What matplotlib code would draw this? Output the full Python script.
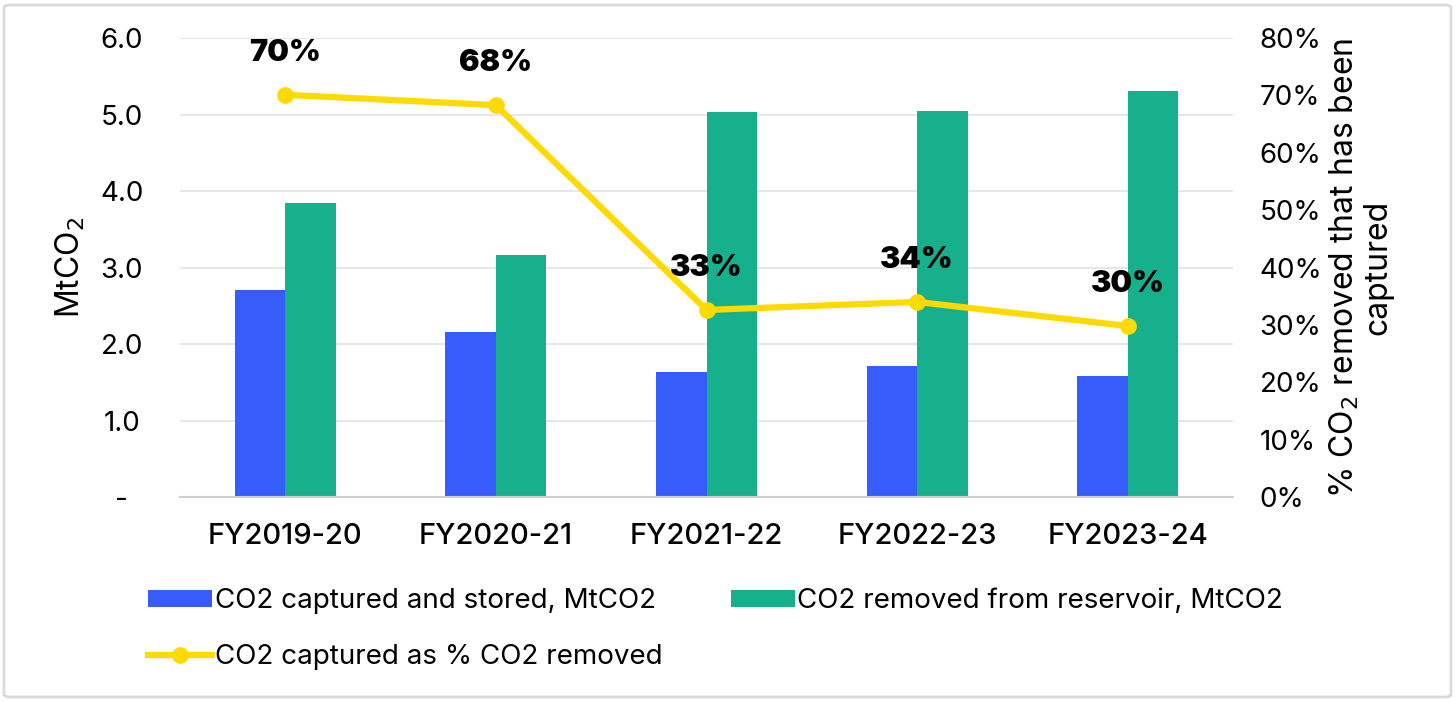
#importing libraries
import matplotlib.pyplot as plt
import numpy as np
from matplotlib.patches import FancyBboxPatch
from matplotlib.ticker import FixedLocator

#data
years = ["FY2019-20", "FY2020-21", "FY2021-22", "FY2022-23", "FY2023-24"]
captured = [2.71, 2.16, 1.63, 1.71, 1.58]
removed = [3.84, 3.16, 5.03, 5.05, 5.31]
pct_captured = [70.1, 68.3, 32.6, 34.0, 29.8]
pct_labels = ["70%", "68%", "33%", "34%", "30%"]
left_ticks = ["-", "1.0", "2.0", "3.0", "4.0", "5.0", "6.0"]

blue = "#365CF9"
green = "#17B08C"
yellow = "#FFDA00"

plt.rcParams['font.family'] = ['Inter', 'DejaVu Sans']

fig = plt.figure(figsize=(14.56, 7.01), dpi=100)
ax = fig.add_axes([180/1456, 1-497/701, 1053/1456, 459/701])
ax2 = ax.twinx()

x = np.arange(len(years))
w = 0.24
b1 = ax.bar(x - w/2, captured, w, color=blue, label="CO2 captured and stored, MtCO2", zorder=2)
b2 = ax.bar(x + w/2, removed, w, color=green, label="CO2 removed from reservoir, MtCO2", zorder=2)

ax.set_xlim(-0.5, 4.5)
ax.set_ylim(0, 6)
ax.yaxis.set_major_locator(FixedLocator(range(7)))
ax.set_yticklabels(left_ticks)
ax.set_xticks(x)
ax.set_xticklabels(years, fontsize=21, fontweight='medium')
ax.tick_params(axis='both', length=0, labelsize=20)
ax.tick_params(axis='x', pad=19, labelsize=21)
ax.tick_params(axis='y', pad=42)
for lab in ax.get_yticklabels():
    lab.set_horizontalalignment('center')
ax.grid(axis='y', color='#E3E3E3', linewidth=1.2, zorder=0)
ax.set_axisbelow(True)
for s in ['top', 'left', 'right']:
    ax.spines[s].set_visible(False)
    ax2.spines[s].set_visible(False)
ax.spines['bottom'].set_color('#D0D0D0')
ax.spines['bottom'].set_linewidth(1.5)
ax2.spines['bottom'].set_visible(False)
ax.set_ylabel("MtCO$_2$", fontsize=23)
ax.yaxis.set_label_coords(-93/1053, 0.5)

#percentage line on the right axis
ln, = ax2.plot(x, pct_captured, color=yellow, linewidth=4.5, marker='o', markersize=11,
               label="CO2 captured as % CO2 removed", zorder=3)
ax2.set_ylim(0, 80)
ax2.set_yticks(range(0, 81, 10))
ax2.set_yticklabels([f"{v}%" for v in range(0, 81, 10)])
ax2.tick_params(axis='y', length=0, labelsize=20, pad=19)
ax2.set_ylabel("% CO$_2$ removed that has been\ncaptured", fontsize=23,
               linespacing=1.05)
ax2.yaxis.set_label_coords(1 + 95/1053, 0.5)
for xi, v, t in zip(x, pct_captured, pct_labels):
    ax2.annotate(t, (xi, v), xytext=(0, 30), textcoords='offset points', ha='center',
                 va='center', fontsize=22, fontweight='black', color='black')

#legend
leg = fig.legend([b1, ln, b2],
                 [b1.get_label(), ln.get_label(), b2.get_label()],
                 ncol=2, loc='upper left', bbox_to_anchor=(148/1456, 1-588/701),
                 frameon=False, fontsize=20, handlelength=2.3, handleheight=0.58,
                 columnspacing=2.46, labelspacing=1.09, handletextpad=0.1,
                 borderpad=0, borderaxespad=0)

#grey frame round the figure
fig.patches.append(FancyBboxPatch((4/1456, 4/701), 1447/1456, 692/701,
                                  boxstyle="round,pad=0,rounding_size=0.004",
                                  transform=fig.transFigure, facecolor='none',
                                  edgecolor='#DADADA', linewidth=2))

fig.savefig("out.png", dpi=100)
